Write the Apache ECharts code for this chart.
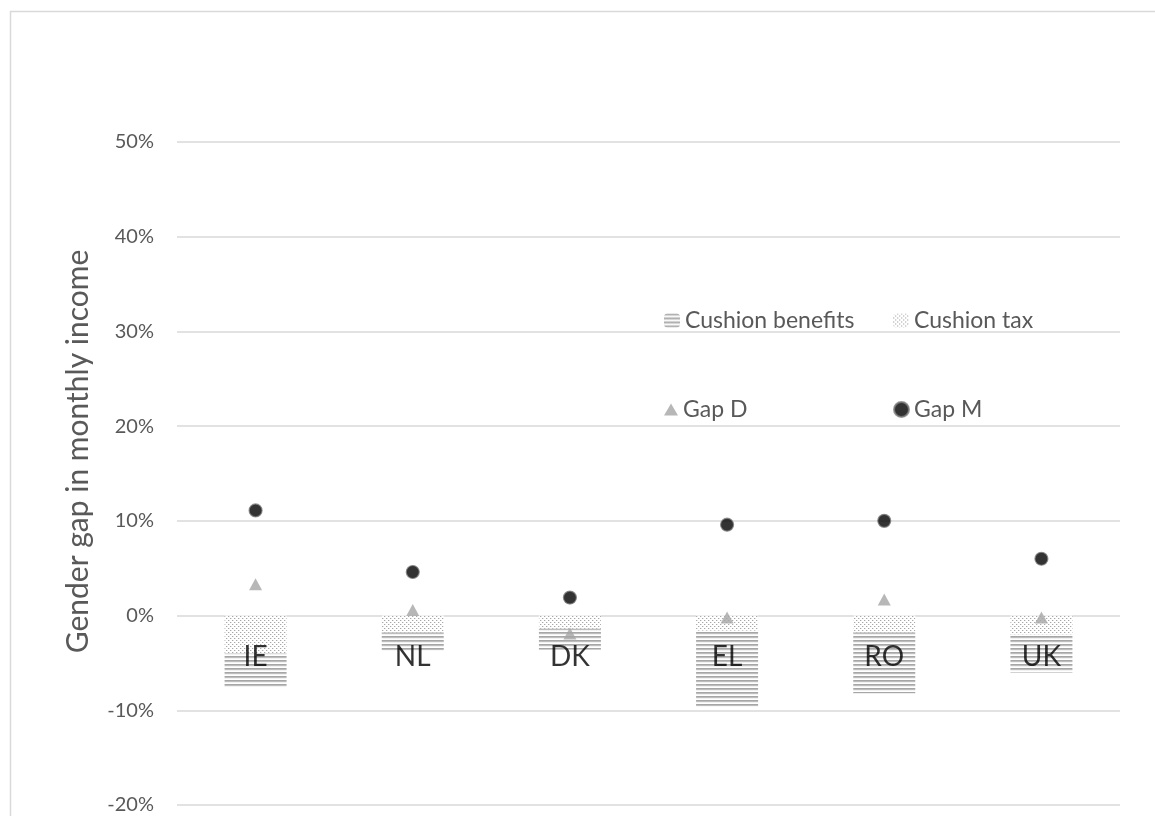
<!DOCTYPE html>
<html>
<head>
<meta charset="utf-8">
<script src="https://cdn.jsdelivr.net/npm/echarts@6/dist/echarts.min.js"></script>
<style>
html,body{margin:0;padding:0;background:#fff;}
#chart{width:1155px;height:816px;}
</style>
</head>
<body>
<div id="chart"></div>
<script>
// ---- data ----
const categories = ['IE', 'NL', 'DK', 'EL', 'RO', 'UK'];
const cushionTax = [-0.040, -0.018, -0.014, -0.016, -0.018, -0.020];
const cushionBenefits = [-0.036, -0.019, -0.022, -0.080, -0.064, -0.040];
const gapD = [0.033, 0.006, -0.019, -0.002, 0.017, -0.002];
const gapM = [0.111, 0.046, 0.019, 0.096, 0.100, 0.060];
const yTicks = [-0.2, -0.1, 0, 0.1, 0.2, 0.3, 0.4, 0.5];

// ---- patterns ----
function makeLines() {
  const c = document.createElement('canvas');
  c.width = 4; c.height = 4;
  const g = c.getContext('2d');
  g.fillStyle = '#ffffff'; g.fillRect(0, 0, 4, 4);
  g.fillStyle = '#a6a6a6'; g.fillRect(0, 0, 4, 1);
  g.fillStyle = '#bdbdbd'; g.fillRect(0, 1, 4, 1);
  g.fillStyle = '#f2f2f2'; g.fillRect(0, 2, 4, 1);
  return c;
}
function makeDots() {
  const c = document.createElement('canvas');
  c.width = 4; c.height = 4;
  const g = c.getContext('2d');
  g.fillStyle = '#ffffff'; g.fillRect(0, 0, 4, 4);
  g.fillStyle = '#a8a8a8'; g.fillRect(0, 0, 1, 1); g.fillRect(2, 2, 1, 1);
  g.fillStyle = '#e4e4e4'; g.fillRect(1, 0, 1, 1); g.fillRect(3, 2, 1, 1);
  return c;
}
const linesPattern = { image: makeLines(), repeat: 'repeat' };
const dotsPattern = { image: makeDots(), repeat: 'repeat' };

const FONT = 'Lato';
const legendText = { fontFamily: FONT, fontSize: 23, color: '#595959' };
function legendAt(name, left, top, w, h) {
  return {
    data: [name], left: left, top: top, orient: 'horizontal',
    itemWidth: w, itemHeight: h, itemGap: 6, padding: 0,
    textStyle: legendText, selectedMode: false
  };
}

const chart = echarts.init(document.getElementById('chart'), null, { renderer: 'canvas' });
chart.setOption({
  backgroundColor: '#ffffff',
  animation: false,
  graphic: [{
    type: 'rect', left: 8, top: 9, z: -10,
    shape: { width: 1300, height: 1000 },
    style: { fill: 'none', stroke: '#d9d9d9', lineWidth: 1.5 }
  }],
  legend: [
    legendAt('Cushion benefits', 664, 309, 16, 14),
    legendAt('Cushion tax', 893, 309, 16, 14),
    legendAt('Gap D', 664, 398, 14, 12),
    legendAt('Gap M', 893, 398, 15, 15)
  ],
  grid: { left: 177, right: 35, top: 142, bottom: 11, containLabel: false, outerBoundsMode: 'none' },
  xAxis: {
    type: 'category',
    data: categories,
    axisLine: { show: false },
    axisTick: { show: false },
    axisLabel: { show: false },
    splitLine: { show: false }
  },
  yAxis: {
    type: 'value',
    min: yTicks[0], max: yTicks[yTicks.length - 1], interval: 0.1,
    name: 'Gender gap in monthly income',
    nameLocation: 'middle',
    nameGap: 84,
    nameTextStyle: { fontFamily: FONT, fontSize: 30, color: '#595959', padding: [0, 0, 0, 44] },
    axisLine: { show: false },
    axisTick: { show: false },
    axisLabel: {
      fontFamily: FONT, fontSize: 20, color: '#595959', margin: 23,
      formatter: v => Math.round(v * 100) + '%'
    },
    splitLine: { lineStyle: { color: '#d9d9d9', width: 1.5 } }
  },
  series: [
    {
      name: 'Cushion tax', type: 'bar', stack: 'cushion', barWidth: 62,
      data: cushionTax, itemStyle: { color: dotsPattern }, z: 2
    },
    {
      name: 'Cushion benefits', type: 'bar', stack: 'cushion', barWidth: 62,
      data: cushionBenefits, itemStyle: { color: linesPattern }, z: 2
    },
    {
      name: 'Gap D', type: 'scatter', symbol: 'triangle', symbolSize: [13, 12],
      data: gapD, itemStyle: { color: '#a5a5a5' }, z: 5
    },
    {
      name: 'Gap M', type: 'scatter', symbol: 'circle', symbolSize: 13,
      data: gapM, itemStyle: { color: '#000000', borderColor: '#7f7f7f', borderWidth: 1.2 }, z: 5
    },
    {
      // category labels sitting just below the zero line (Excel "next to axis")
      name: 'axis labels', type: 'scatter', symbolSize: 0, silent: true,
      data: categories.map(c => [c, 0]),
      label: {
        show: true, position: 'bottom', distance: 27,
        formatter: p => p.value[0],
        fontFamily: FONT, fontSize: 28, color: '#000000'
      },
      z: 8
    }
  ]
});
</script>
</body>
</html>
